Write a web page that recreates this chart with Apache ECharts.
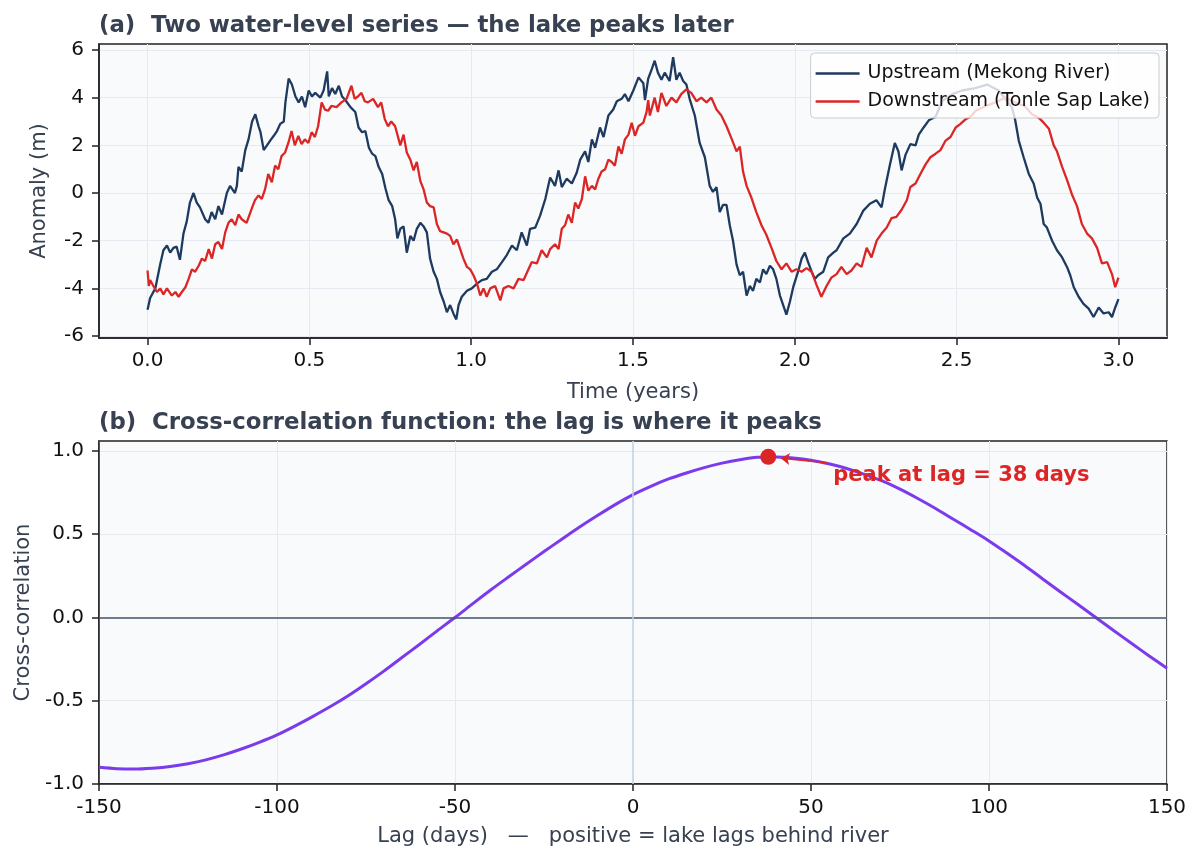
<!DOCTYPE html>
<html>
<head>
<meta charset="utf-8">
<title>Water-level lag</title>
<script src="https://cdn.jsdelivr.net/npm/echarts@6/dist/echarts.min.js"></script>
<style>
html,body{margin:0;padding:0;background:#fff;}
#main{width:1202px;height:862px;}
</style>
</head>
<body>
<div id="main"></div>
<script>
// upstream water level
var upstreamT = [0.000,0.008,0.024,0.039,0.049,0.060,0.070,0.080,0.090,0.100,
  0.111,0.121,0.131,0.142,0.152,0.162,0.178,0.188,0.198,0.209,
  0.219,0.230,0.245,0.255,0.270,0.276,0.281,0.291,0.302,0.312,
  0.323,0.333,0.343,0.349,0.359,0.369,0.379,0.390,0.400,0.410,
  0.421,0.426,0.436,0.446,0.457,0.467,0.477,0.487,0.498,0.508,
  0.518,0.534,0.544,0.555,0.560,0.570,0.580,0.591,0.601,0.611,
  0.627,0.642,0.652,0.663,0.673,0.684,0.694,0.704,0.714,0.725,
  0.735,0.745,0.756,0.765,0.772,0.781,0.791,0.801,0.812,0.822,
  0.832,0.843,0.853,0.863,0.873,0.884,0.894,0.904,0.915,0.925,
  0.935,0.945,0.954,0.961,0.971,0.987,1.002,1.018,1.033,1.048,
  1.064,1.079,1.095,1.110,1.126,1.141,1.156,1.172,1.182,1.198,
  1.213,1.229,1.244,1.259,1.270,1.280,1.295,1.311,1.326,1.337,
  1.352,1.362,1.373,1.383,1.398,1.409,1.424,1.439,1.450,1.465,
  1.475,1.486,1.501,1.517,1.532,1.537,1.547,1.558,1.567,1.577,
  1.588,1.598,1.613,1.624,1.634,1.644,1.655,1.665,1.675,1.691,
  1.706,1.722,1.737,1.747,1.758,1.768,1.778,1.789,1.799,1.809,
  1.820,1.830,1.840,1.851,1.861,1.871,1.881,1.892,1.902,1.912,
  1.923,1.933,1.943,1.954,1.964,1.974,1.985,1.995,2.010,2.021,
  2.031,2.041,2.052,2.062,2.072,2.088,2.103,2.119,2.129,2.150,
  2.170,2.191,2.211,2.232,2.252,2.268,2.278,2.294,2.309,2.320,
  2.330,2.342,2.357,2.373,2.383,2.398,2.414,2.435,2.455,2.486,
  2.517,2.558,2.594,2.630,2.671,2.681,2.692,2.707,2.723,2.738,
  2.749,2.759,2.769,2.779,2.795,2.810,2.826,2.841,2.851,2.862,
  2.877,2.892,2.908,2.923,2.939,2.954,2.970,2.980,2.990,3.000];
var upstreamLevel = [-4.9,-4.4,-4.0,-3.0,-2.4,-2.2,-2.5,-2.3,-2.25,-2.8,
  -1.7,-1.2,-0.4,0.0,-0.4,-0.6,-1.1,-1.25,-0.8,-1.1,
  -0.55,-0.9,0.0,0.3,0.0,0.3,1.1,0.9,1.8,2.25,
  3.0,3.3,2.8,2.55,1.8,2.0,2.2,2.4,2.6,2.9,
  3.0,3.8,4.8,4.55,4.05,3.8,4.05,3.6,4.3,4.05,
  4.2,4.0,4.3,5.1,4.05,4.4,4.15,4.5,4.05,3.9,
  3.6,3.4,2.75,2.55,2.6,1.9,1.65,1.55,1.1,0.8,
  0.2,-0.3,-0.55,-1.1,-1.9,-1.5,-1.4,-2.5,-1.8,-2.0,
  -1.5,-1.25,-1.4,-1.65,-2.75,-3.3,-3.6,-4.15,-4.55,-5.0,
  -4.7,-5.05,-5.3,-4.7,-4.35,-4.1,-4.0,-3.8,-3.65,-3.6,
  -3.3,-3.2,-2.9,-2.6,-2.2,-2.4,-1.65,-2.2,-1.5,-1.45,
  -0.95,-0.25,0.65,0.3,0.95,0.25,0.6,0.4,0.85,1.4,
  1.75,1.3,2.25,1.9,2.75,2.35,3.25,3.5,3.85,3.95,
  4.15,3.85,4.3,4.85,4.6,3.9,4.8,5.2,5.55,5.05,
  4.75,5.05,4.7,5.7,4.75,5.05,4.7,4.55,3.95,3.25,
  2.1,1.5,0.3,0.05,0.25,-0.8,-0.5,-0.5,-1.35,-2.0,
  -3.0,-3.45,-3.3,-4.3,-3.9,-4.1,-3.6,-3.75,-3.2,-3.4,
  -3.05,-3.2,-3.6,-4.3,-4.7,-5.1,-4.55,-3.95,-3.3,-2.75,
  -2.5,-2.9,-3.3,-3.6,-3.45,-3.3,-2.7,-2.5,-2.4,-1.9,
  -1.7,-1.3,-0.75,-0.45,-0.3,-0.6,0.15,1.2,2.1,1.75,
  0.95,1.6,2.05,2.0,2.45,2.75,3.05,3.2,3.85,4.15,
  4.3,4.4,4.55,4.3,3.6,3.05,2.2,1.5,0.8,0.4,
  -0.2,-0.45,-1.3,-1.45,-2.0,-2.4,-2.7,-3.1,-3.45,-3.95,
  -4.35,-4.65,-4.85,-5.2,-4.8,-5.05,-5.0,-5.2,-4.8,-4.45];

// downstream (lake) water level
var downstreamT = [0.000,0.004,0.008,0.018,0.029,0.039,0.049,0.060,0.075,0.086,
  0.096,0.106,0.117,0.127,0.137,0.147,0.158,0.168,0.178,0.189,
  0.199,0.209,0.219,0.230,0.240,0.250,0.260,0.271,0.281,0.291,
  0.306,0.322,0.332,0.343,0.353,0.363,0.373,0.384,0.394,0.404,
  0.414,0.425,0.435,0.445,0.455,0.466,0.476,0.486,0.497,0.507,
  0.517,0.527,0.538,0.548,0.558,0.568,0.584,0.599,0.615,0.630,
  0.640,0.650,0.661,0.671,0.681,0.697,0.712,0.722,0.733,0.743,
  0.753,0.765,0.781,0.791,0.801,0.812,0.822,0.832,0.843,0.853,
  0.863,0.873,0.884,0.894,0.904,0.915,0.925,0.935,0.945,0.956,
  0.966,0.976,0.987,0.997,1.007,1.018,1.028,1.038,1.048,1.059,
  1.074,1.090,1.100,1.115,1.131,1.146,1.162,1.177,1.187,1.203,
  1.218,1.234,1.244,1.259,1.270,1.280,1.290,1.300,1.311,1.321,
  1.331,1.342,1.352,1.362,1.373,1.383,1.393,1.403,1.414,1.424,
  1.434,1.444,1.455,1.465,1.475,1.486,1.496,1.506,1.517,1.532,
  1.542,1.547,1.552,1.567,1.577,1.588,1.603,1.619,1.634,1.649,
  1.665,1.680,1.696,1.711,1.727,1.742,1.758,1.773,1.789,1.804,
  1.820,1.830,1.840,1.851,1.866,1.881,1.897,1.912,1.928,1.943,
  1.959,1.974,1.990,2.005,2.021,2.036,2.052,2.067,2.082,2.098,
  2.113,2.129,2.144,2.160,2.175,2.191,2.206,2.222,2.237,2.253,
  2.268,2.284,2.299,2.314,2.330,2.346,2.357,2.373,2.388,2.404,
  2.419,2.435,2.450,2.466,2.481,2.497,2.512,2.528,2.543,2.559,
  2.590,2.620,2.650,2.680,2.710,2.733,2.754,2.769,2.785,2.800,
  2.810,2.826,2.841,2.856,2.872,2.887,2.903,2.918,2.934,2.949,
  2.965,2.980,2.990,3.000];
var downstreamLevel = [-3.25,-3.9,-3.65,-3.9,-4.15,-4.0,-4.25,-4.0,-4.3,-4.15,
  -4.35,-4.15,-3.95,-3.6,-3.2,-3.3,-3.05,-2.75,-2.85,-2.35,
  -2.75,-2.15,-2.05,-2.35,-1.65,-1.25,-1.1,-1.35,-0.9,-1.1,
  -1.25,-0.65,-0.3,-0.1,-0.25,0.15,0.8,0.45,1.15,1.0,
  1.55,1.7,2.1,2.6,2.0,2.4,2.05,2.25,2.1,2.55,
  2.35,2.8,3.8,3.5,3.45,3.65,3.6,3.8,3.95,4.5,
  3.95,4.05,4.2,3.85,3.8,3.95,3.6,3.8,3.1,2.8,
  3.0,2.8,2.0,2.45,1.7,1.4,0.95,1.3,0.5,0.15,
  -0.4,-0.55,-0.6,-1.3,-1.6,-1.65,-1.7,-1.8,-2.15,-1.95,
  -2.35,-2.75,-3.1,-3.2,-3.45,-3.8,-4.3,-4.0,-4.35,-4.0,
  -3.9,-4.5,-4.0,-3.9,-4.0,-3.6,-3.65,-3.2,-2.9,-2.95,
  -2.4,-2.7,-2.35,-2.15,-2.35,-1.5,-1.35,-0.9,-1.25,-0.4,
  -0.65,-0.25,0.7,0.1,0.3,0.15,0.6,0.9,1.0,1.4,
  1.3,1.15,1.95,1.65,2.25,2.45,2.95,2.4,2.8,2.95,
  3.4,3.9,3.25,4.0,3.4,4.2,3.65,4.0,3.8,4.15,
  4.35,4.2,3.85,4.0,3.8,4.0,3.5,3.25,2.8,2.3,
  1.75,1.95,0.9,0.3,-0.2,-0.8,-1.35,-1.75,-2.3,-2.85,
  -3.2,-2.95,-3.3,-3.2,-3.3,-3.15,-3.3,-3.85,-4.35,-3.9,
  -3.55,-3.4,-3.1,-3.4,-3.25,-2.95,-3.1,-2.3,-2.7,-2.0,
  -1.7,-1.45,-1.05,-1.0,-0.7,-0.3,0.25,0.4,0.8,1.2,
  1.5,1.65,1.8,2.2,2.35,2.75,2.9,3.1,3.2,3.45,
  3.65,3.8,4.0,3.8,3.65,3.3,3.15,2.95,2.7,2.0,
  1.75,1.1,0.55,-0.05,-0.55,-1.3,-1.7,-1.9,-2.3,-2.95,
  -2.9,-3.4,-3.95,-3.55];

// cross-correlation function, every 5 days
var lagDays = [-150,-145,-140,-135,-130,-125,-120,-115,-110,-105,
  -100,-95,-90,-85,-80,-75,-70,-65,-60,-55,
  -50,-45,-40,-35,-30,-25,-20,-15,-10,-5,
  0,5,10,15,20,25,30,35,40,45,
  50,55,60,65,70,75,80,85,90,95,
  100,105,110,115,120,125,130,135,140,145,150];
var ccfValues = [-0.900,-0.908,-0.910,-0.905,-0.895,-0.878,-0.855,-0.825,-0.790,-0.750,
  -0.705,-0.652,-0.595,-0.535,-0.470,-0.398,-0.322,-0.242,-0.162,-0.080,
  0.000,0.083,0.165,0.243,0.320,0.396,0.470,0.543,0.612,0.678,
  0.738,0.788,0.832,0.868,0.900,0.927,0.948,0.962,0.964,0.958,
  0.945,0.923,0.895,0.860,0.820,0.771,0.715,0.655,0.590,0.526,
  0.460,0.387,0.312,0.233,0.155,0.078,0.000,-0.078,-0.155,-0.231,-0.305];
var peakLag = 38;
var peakValue = 0.965;

// tick labels
var yearTicks = [0, 0.5, 1.0, 1.5, 2.0, 2.5, 3.0];
var anomalyTicks = [-6, -4, -2, 0, 2, 4, 6];
var lagTicks = [-150, -100, -50, 0, 50, 100, 150];
var ccfTicks = [-1.0, -0.5, 0.0, 0.5, 1.0];

function zip(xs, ys) {
  var out = [];
  for (var i = 0; i < xs.length; i++) {
    out.push([xs[i], ys[i]]);
  }
  return out;
}

var font = 'DejaVu Sans';
var spine = '#222222';

function axisOf(grid, min, max, ticks, name, fmt, nameGap, labelMargin) {
  return {
    type: 'value', gridIndex: grid, min: min, max: max,
    name: name, nameLocation: 'middle', nameGap: nameGap,
    nameTextStyle: {fontFamily: font, fontSize: 21, color: '#374151'},
    axisLine: {show: true, onZero: false, lineStyle: {color: spine, width: 1.5}},
    axisTick: {show: true, length: 7, customValues: ticks, lineStyle: {color: spine, width: 1.5}},
    axisLabel: {customValues: ticks, formatter: fmt, color: '#111', fontFamily: font, fontSize: 20, margin: labelMargin},
    splitLine: {show: true, lineStyle: {color: '#e6e9ef', width: 1}}
  };
}

var myChart = echarts.init(document.getElementById("main"));

var option = {
  animation: false,
  backgroundColor: '#ffffff',
  title: [
    {text: '(a)  Two water-level series \u2014 the lake peaks later', left: 94, top: 10,
      textStyle: {fontFamily: font, fontSize: 22.8, fontWeight: 'bold', color: '#374151'}},
    {text: '(b)  Cross-correlation function: the lag is where it peaks', left: 94, top: 407,
      textStyle: {fontFamily: font, fontSize: 22.8, fontWeight: 'bold', color: '#374151'}}
  ],
  legend: {
    orient: 'vertical', right: 43, top: 53,
    data: ['Upstream (Mekong River)', 'Downstream (Tonle Sap Lake)'],
    icon: 'rect', itemWidth: 44, itemHeight: 2.5, itemGap: 9,
    padding: [11, 9, 7, 5],
    backgroundColor: 'rgba(255,255,255,0.8)',
    borderColor: '#cccccc', borderWidth: 1, borderRadius: 4,
    textStyle: {fontFamily: font, fontSize: 19, color: '#111', padding: [0, 0, 0, 3]}
  },
  grid: [
    {left: 99, top: 44, width: 1068, height: 294, show: true,
      backgroundColor: '#f8fafc', borderColor: spine, borderWidth: 1.5},
    {left: 99, top: 441, width: 1068, height: 343, show: true,
      backgroundColor: '#f8fafc', borderColor: spine, borderWidth: 1.5}
  ],
  xAxis: [
    axisOf(0, -0.15, 3.15, yearTicks, 'Time (years)', function (v) { return v.toFixed(1); }, 44, 13),
    axisOf(1, -150, 150, lagTicks, 'Lag (days)   \u2014   positive = lake lags behind river', function (v) { return String(v); }, 42, 14)
  ],
  yAxis: [
    axisOf(0, -6.08, 6.25, anomalyTicks, 'Anomaly (m)', function (v) { return String(v); }, 49, 15),
    axisOf(1, -1.0, 1.06, ccfTicks, 'Cross-correlation', function (v) { return v.toFixed(1); }, 65, 15)
  ],
  series: [
    {
      name: 'Upstream (Mekong River)', type: 'line',
      xAxisIndex: 0, yAxisIndex: 0,
      data: zip(upstreamT, upstreamLevel),
      symbol: 'none', showSymbol: false,
      lineStyle: {color: '#1e3a5f', width: 2.3},
      itemStyle: {color: '#1e3a5f'}
    },
    {
      name: 'Downstream (Tonle Sap Lake)', type: 'line',
      xAxisIndex: 0, yAxisIndex: 0,
      data: zip(downstreamT, downstreamLevel),
      symbol: 'none', showSymbol: false,
      lineStyle: {color: '#dc2626', width: 2.3},
      itemStyle: {color: '#dc2626'}
    },
    {
      name: 'ccf', type: 'line',
      xAxisIndex: 1, yAxisIndex: 1,
      data: zip(lagDays, ccfValues),
      smooth: 0.3, symbol: 'none', showSymbol: false,
      lineStyle: {color: '#7c3aed', width: 3},
      markLine: {
        silent: true, symbol: ['none', 'none'], label: {show: false},
        data: [
          {yAxis: 0, lineStyle: {color: '#475569', width: 1.5, type: 'solid'}},
          {xAxis: 0, lineStyle: {color: '#c6d2e0', width: 1.5, type: 'solid'}}
        ]
      },
      z: 2
    },
    {
      name: 'peak', type: 'scatter',
      xAxisIndex: 1, yAxisIndex: 1,
      data: [[peakLag, peakValue]],
      symbolSize: 16,
      itemStyle: {color: '#dc2626', opacity: 1},
      label: {
        show: true, formatter: 'peak at lag = ' + peakLag + ' days',
        position: [73, 27], align: 'left', verticalAlign: 'middle',
        fontFamily: font, fontSize: 21, fontWeight: 'bold', color: '#dc2626'
      },
      markLine: {
        silent: true, symbol: ['none', 'arrow'], symbolSize: 9,
        label: {show: false},
        lineStyle: {color: '#dc2626', width: 1.5, type: 'solid'},
        data: [[{coord: [54.5, 0.93]}, {coord: [41.5, 0.957]}]]
      },
      z: 5
    }
  ]
};

myChart.setOption(option);
</script>
</body>
</html>
